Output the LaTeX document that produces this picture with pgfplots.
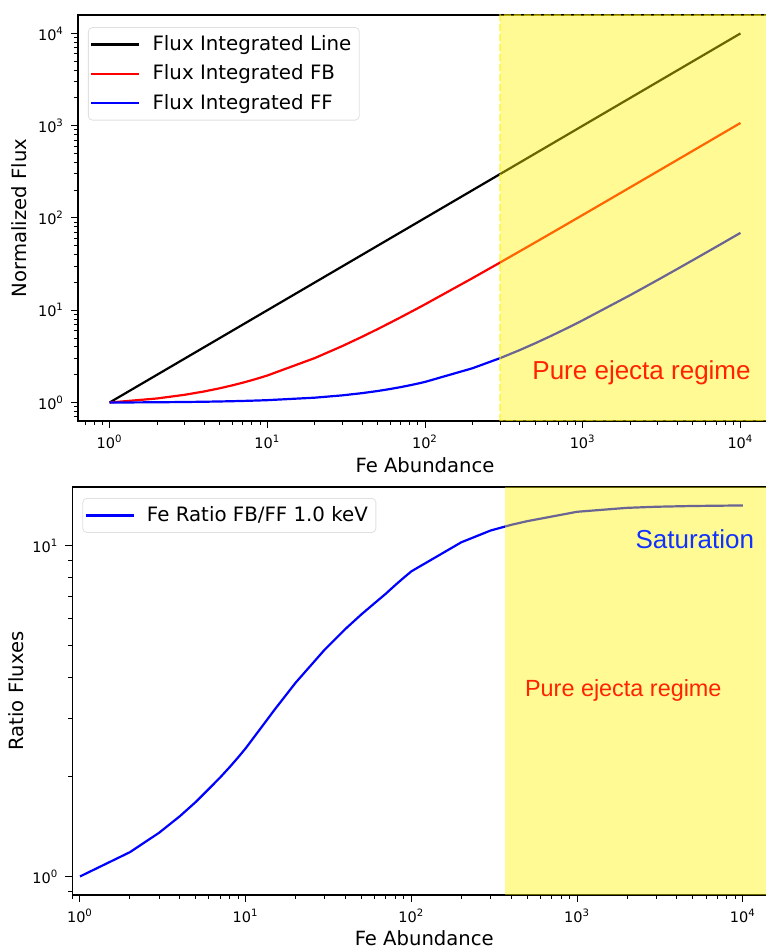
\documentclass[border=0pt]{standalone}
\usepackage{fontspec}
\setmainfont{DejaVu Sans}
\newfontfamily\arialfont{Liberation Sans}
\usepackage{pgfplots}
\usepackage{pgfplotstable}
\pgfplotsset{compat=1.18}
\definecolor{ejred}{RGB}{255,35,0}
\definecolor{satblue}{RGB}{15,50,255}

\pgfplotstableread{
x line fb ff
1 1 1 1
2 2 1.107 1.0068
3 3 1.214 1.0136
4 4 1.321 1.0204
5 5 1.428 1.0272
6 6 1.535 1.034
7 7 1.642 1.0408
8 8 1.749 1.0476
9 9 1.856 1.0544
10 10 1.963 1.0612
20 20 3.033 1.129
30 30 4.103 1.197
40 40 5.173 1.265
50 50 6.243 1.333
60 60 7.313 1.401
70 70 8.383 1.469
80 80 9.453 1.537
90 90 10.52 1.605
100 100 11.59 1.673
200 200 22.29 2.353
300 300 32.99 3.033
400 400 43.69 3.713
500 500 54.39 4.393
600 600 65.09 5.073
700 700 75.79 5.753
800 800 86.49 6.433
900 900 97.19 7.113
1000 1000 107.9 7.793
2000 2000 214.9 14.59
3000 3000 321.9 21.39
4000 4000 428.9 28.19
5000 5000 535.9 34.99
6000 6000 642.9 41.79
7000 7000 749.9 48.59
8000 8000 856.9 55.39
9000 9000 963.9 62.19
10000 10000 1071 68.99
}\fluxdata

\pgfplotstableread{
x ratio
1 1.0
2 1.184
3 1.355
4 1.52
5 1.68
6 1.84
7 1.99
8 2.14
9 2.29
10 2.44
15 3.2
20 3.85
30 4.85
40 5.6
50 6.2
60 6.7
70 7.15
80 7.6
90 8.0
100 8.36
200 10.23
300 11.1
400 11.55
500 11.85
1000 12.65
2000 13.0
3000 13.1
5000 13.17
10000 13.22
}\ratiodata

\begin{document}
\begin{tikzpicture}
\useasboundingbox (0pt,0pt) rectangle (383pt,474.5pt);

% ---------- top panel ----------
\begin{axis}[
  xmode=log, ymode=log, scale only axis, clip=true,
  axis line style={line width=0.6pt},
  tick style={black, line width=0.5pt},
  tick align=outside, tick pos=left,
  major tick length=3.5pt, minor tick length=2pt,
  ticklabel style={font=\fontsize{7.25}{8}\selectfont},
  label style={font=\fontsize{9.8}{11}\selectfont},
  xtick={1,10,100,1000,10000},
  xticklabels={10\textsuperscript{0},10\textsuperscript{1},10\textsuperscript{2},10\textsuperscript{3},10\textsuperscript{4}},
  legend cell align=left,
  legend image code/.code={\draw[#1, line width=1.1pt] (0pt,0pt) -- (24pt,0pt);},
  at={(39pt,264pt)}, anchor=south west,
  width=347pt, height=203pt,
  xmin=0.630957, xmax=15848.9, ymin=0.630957, ymax=15848.9,
  ytick={1,10,100,1000,10000},
  yticklabels={10\textsuperscript{0},10\textsuperscript{1},10\textsuperscript{2},10\textsuperscript{3},10\textsuperscript{4}},
  minor xtick={0.7,0.8,0.9,2,3,4,5,6,7,8,9,20,30,40,50,60,70,80,90,200,300,400,500,600,700,800,900,2000,3000,4000,5000,6000,7000,8000,9000},
  minor ytick={0.7,0.8,0.9,2,3,4,5,6,7,8,9,20,30,40,50,60,70,80,90,200,300,400,500,600,700,800,900,2000,3000,4000,5000,6000,7000,8000,9000},
  xlabel={Fe Abundance}, ylabel={Normalized Flux},
  xlabel style={at={(axis description cs:0.5,-0.108)}, anchor=center},
  ylabel style={at={(axis description cs:-0.085,0.5)}, anchor=center},
  legend style={at={(axis description cs:0.0144,0.970)}, anchor=north west,
    draw=black!12, rounded corners=2pt, fill=white, fill opacity=0.8, text opacity=1,
    font=\fontsize{9.9}{11}\selectfont, inner xsep=1pt, inner ysep=3pt, row sep=3.6pt,
    column sep=3pt, nodes={inner xsep=3pt, inner ysep=1pt}},
]
\addplot[black, line width=1.1pt] table[x=x, y=line]{\fluxdata};
\addlegendentry{Flux Integrated Line}
\addplot[red, line width=1.1pt] table[x=x, y=fb]{\fluxdata};
\addlegendentry{Flux Integrated FB}
\addplot[blue, line width=1.1pt] table[x=x, y=ff]{\fluxdata};
\addlegendentry{Flux Integrated FF}
\addplot[forget plot, fill=yellow, fill opacity=0.42, draw=yellow, draw opacity=0.5,
  line width=1pt, dash pattern=on 3.5pt off 1.5pt]
  coordinates {(300,0.630957) (300,15848.9) (30000,15848.9) (30000,0.630957)} -- cycle;
\node[font=\arialfont\fontsize{13}{15}\selectfont, text=ejred] at (axis cs:2360,2.11) {Pure ejecta regime};
\end{axis}

% ---------- bottom panel ----------
\begin{axis}[
  xmode=log, ymode=log, scale only axis, clip=true,
  axis line style={line width=0.6pt},
  tick style={black, line width=0.5pt},
  tick align=outside, tick pos=left,
  major tick length=3.5pt, minor tick length=2pt,
  ticklabel style={font=\fontsize{7.25}{8}\selectfont},
  label style={font=\fontsize{9.8}{11}\selectfont},
  xtick={1,10,100,1000,10000},
  xticklabels={10\textsuperscript{0},10\textsuperscript{1},10\textsuperscript{2},10\textsuperscript{3},10\textsuperscript{4}},
  legend cell align=left,
  legend image code/.code={\draw[#1, line width=1.1pt] (0pt,0pt) -- (24pt,0pt);},
  at={(36.2pt,27pt)}, anchor=south west,
  width=351.8pt, height=204pt,
  xmin=0.9, xmax=15848.9, ymin=0.879, ymax=15.03,
  ytick={1,10},
  yticklabels={10\textsuperscript{0},10\textsuperscript{1}},
  minor xtick={0.9,2,3,4,5,6,7,8,9,20,30,40,50,60,70,80,90,200,300,400,500,600,700,800,900,2000,3000,4000,5000,6000,7000,8000,9000},
  minor ytick={0.9,2,3,4,5,6,7,8,9},
  xlabel={Fe Abundance}, ylabel={Ratio Fluxes},
  xlabel style={at={(axis description cs:0.5,-0.105)}, anchor=center},
  ylabel style={at={(axis description cs:-0.08,0.5)}, anchor=center},
  legend style={at={(axis description cs:0.0142,0.973)}, anchor=north west,
    draw=black!12, rounded corners=2pt, fill=white, fill opacity=0.8, text opacity=1,
    font=\fontsize{9.9}{11}\selectfont, inner xsep=1pt, inner ysep=3pt,
    column sep=3pt, nodes={inner xsep=3pt, inner ysep=1pt}},
]
\addplot[blue, line width=1.1pt] table[x=x, y=ratio]{\ratiodata};
\addlegendentry{Fe Ratio FB/FF 1.0 keV}
\addplot[forget plot, fill=yellow, fill opacity=0.42, draw=none]
  coordinates {(366,0.879) (366,15.03) (30000,15.03) (30000,0.879)} -- cycle;
\node[font=\arialfont\fontsize{13}{15}\selectfont, text=satblue] at (axis cs:5130,10.43) {Saturation};
\node[font=\arialfont\fontsize{11.7}{14}\selectfont, text=ejred] at (axis cs:1900,3.65) {Pure ejecta regime};
\end{axis}
\end{tikzpicture}
\end{document}
